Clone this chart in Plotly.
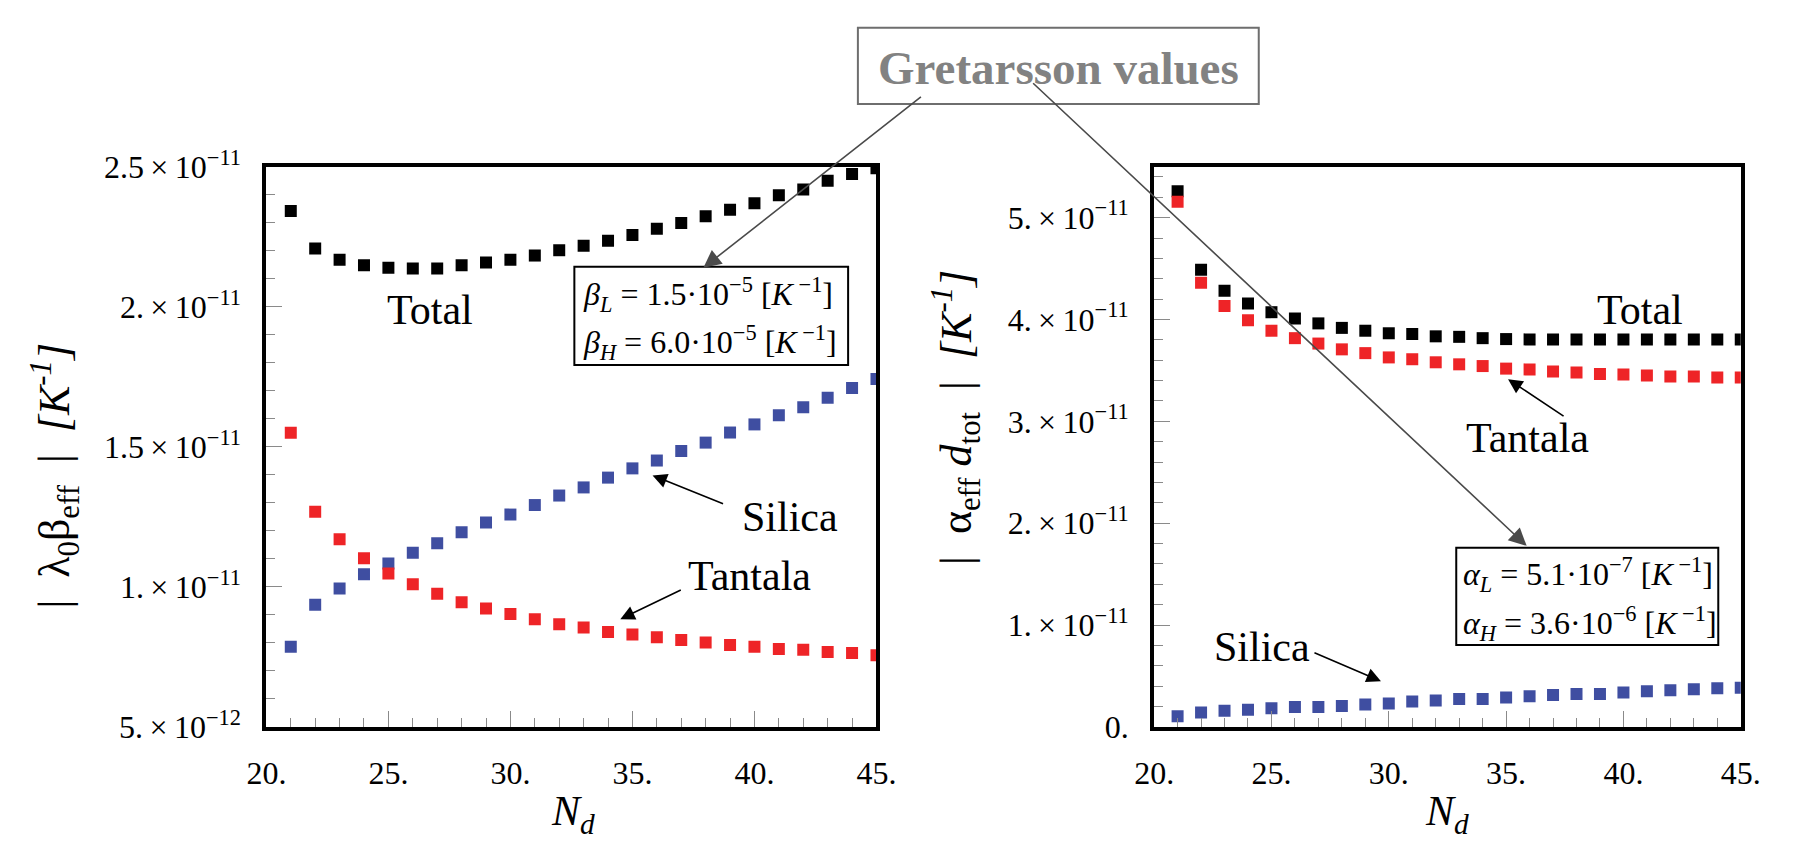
import plotly.graph_objects as go

W, H = 1794, 842

# ---------------- data ----------------
N_layers = list(range(21, 46))

# left panel: |lambda0 beta_eff|  (values in units of 1e-11 K^-1)
left_total = [2.342, 2.208, 2.168, 2.148, 2.139, 2.137, 2.137, 2.148, 2.158, 2.168,
              2.183, 2.202, 2.218, 2.236, 2.256, 2.279, 2.299, 2.323, 2.347, 2.370,
              2.398, 2.419, 2.450, 2.474, 2.495]
left_silica = [0.786, 0.936, 0.994, 1.045, 1.083, 1.122, 1.156, 1.195, 1.230, 1.258,
               1.292, 1.326, 1.355, 1.390, 1.423, 1.451, 1.485, 1.515, 1.551, 1.580,
               1.613, 1.641, 1.675, 1.710, 1.742]
left_tantala = [1.550, 1.268, 1.170, 1.102, 1.048, 1.009, 0.975, 0.945, 0.923, 0.903,
                0.884, 0.866, 0.855, 0.839, 0.830, 0.820, 0.810, 0.801, 0.792, 0.786,
                0.778, 0.775, 0.767, 0.764, 0.756]

# right panel: |alpha_eff d_tot|  (values in units of 1e-11 K^-1)
right_total = [5.26, 4.488, 4.283, 4.157, 4.072, 4.010, 3.962, 3.918, 3.890, 3.865,
               3.858, 3.835, 3.830, 3.817, 3.808, 3.805, 3.805, 3.805, 3.805, 3.805,
               3.805, 3.805, 3.805, 3.805, 3.805]
right_tantala = [5.156, 4.362, 4.132, 3.994, 3.890, 3.817, 3.764, 3.707, 3.670, 3.628,
                 3.610, 3.580, 3.560, 3.543, 3.518, 3.510, 3.490, 3.480, 3.465, 3.460,
                 3.450, 3.440, 3.440, 3.430, 3.430]
right_silica = [0.104, 0.142, 0.158, 0.167, 0.183, 0.196, 0.196, 0.205, 0.220, 0.230,
                0.249, 0.259, 0.274, 0.274, 0.287, 0.300, 0.312, 0.322, 0.322, 0.338,
                0.350, 0.360, 0.369, 0.379, 0.385]
UNIT = 1e-11

x_tickvals = [20, 25, 30, 35, 40, 45]
x_ticktext = ["20.", "25.", "30.", "35.", "40.", "45."]
left_tickvals = [5e-12, 1e-11, 1.5e-11, 2e-11, 2.5e-11]
left_ticktext = ["5.\u2009×\u200910<sup>−12</sup>", "1.\u2009×\u200910<sup>−11</sup>",
                 "1.5\u2009×\u200910<sup>−11</sup>", "2.\u2009×\u200910<sup>−11</sup>",
                 "2.5\u2009×\u200910<sup>−11</sup>"]
right_tickvals = [0, 1e-11, 2e-11, 3e-11, 4e-11, 5e-11]
right_ticktext = ["0.", "1.\u2009×\u200910<sup>−11</sup>", "2.\u2009×\u200910<sup>−11</sup>",
                  "3.\u2009×\u200910<sup>−11</sup>", "4.\u2009×\u200910<sup>−11</sup>",
                  "5.\u2009×\u200910<sup>−11</sup>"]

BLACK = "#000000"
RED = "#EE2427"
BLUE = "#3F4EA1"
SERIF = "Liberation Serif"

fig = go.Figure()


def add(xs, vals, color, xa, ya):
    fig.add_trace(go.Scatter(
        x=xs, y=[v * UNIT for v in vals], mode="markers",
        marker=dict(symbol="square", size=12, color=color, line=dict(width=0)),
        xaxis=xa, yaxis=ya, showlegend=False, hoverinfo="skip"))


add(N_layers, left_total, BLACK, "x", "y")
add(N_layers, left_silica, BLUE, "x", "y")
add(N_layers, left_tantala, RED, "x", "y")
add(N_layers, right_total, BLACK, "x2", "y2")
add(N_layers, right_tantala, RED, "x2", "y2")
add(N_layers, right_silica, BLUE, "x2", "y2")


def px(X):
    return X / W


def py(Y):
    return 1 - Y / H


tickfont = dict(family=SERIF, size=32, color="black")
common_axis = dict(showline=True, linecolor="black", linewidth=4, mirror=True,
                   showgrid=False, zeroline=False, ticks="inside", tickcolor="#8a8a8a",
                   tickwidth=1.2, ticklen=16, tickfont=tickfont)

xaxis_common = dict(common_axis, range=[20, 45], tickmode="array", tickvals=x_tickvals,
                    ticktext=x_ticktext, ticklabelstandoff=15,
                    minor=dict(tick0=20, dtick=1, ticks="inside", ticklen=9,
                               tickcolor="#8a8a8a", tickwidth=1))

fig.update_layout(
    width=W, height=H, autosize=False,
    margin=dict(l=0, r=0, t=0, b=0),
    paper_bgcolor="white", plot_bgcolor="white",
    xaxis=dict(xaxis_common, domain=[px(252), px(876)], anchor="y"),
    yaxis=dict(common_axis, domain=[py(740), py(152)], anchor="x",
               range=[5e-12, 2.5e-11], tickmode="array", tickvals=left_tickvals,
               ticktext=left_ticktext, ticklabelstandoff=15,
               minor=dict(dtick=1e-12, tick0=0, ticks="inside", ticklen=9,
                          tickcolor="#8a8a8a", tickwidth=1)),
    xaxis2=dict(xaxis_common, domain=[px(1160), px(1760)], anchor="y2"),
    yaxis2=dict(common_axis, domain=[py(740), py(152)], anchor="x2",
                range=[0, 5.5e-11], tickmode="array", tickvals=right_tickvals,
                ticktext=right_ticktext, ticklabelstandoff=15,
                minor=dict(dtick=2e-12, tick0=0, ticks="inside", ticklen=9,
                           tickcolor="#8a8a8a", tickwidth=1)),
)

ann = []
shapes = []


def text(X, Y, s, size=42, color="black", xanchor="center", angle=0, bold=False):
    ann.append(dict(x=px(X), y=py(Y), xref="paper", yref="paper", text=s,
                    showarrow=False, xanchor=xanchor, yanchor="middle",
                    textangle=angle,
                    font=dict(family=SERIF, size=size, color=color,
                              weight="bold" if bold else "normal")))


def arrow(tail, tip, color="black", width=1.6, size=1.8):
    ann.append(dict(x=px(tip[0]), y=py(tip[1]), xref="paper", yref="paper",
                    ax=tail[0] - tip[0], ay=tail[1] - tip[1], text="",
                    showarrow=True, arrowhead=2, arrowsize=size, arrowwidth=width,
                    arrowcolor=color, standoff=0, startstandoff=0))


def box(x0, y0, x1, y1, color="black", width=2):
    shapes.append(dict(type="rect", xref="paper", yref="paper",
                       x0=px(x0), x1=px(x1), y0=py(y1), y1=py(y0),
                       line=dict(color=color, width=width), fillcolor="white",
                       layer="above"))


SP = "\u2002"
# axis titles
text(36, 476, "|" + SP + "λ<sub>0</sub>β<sub>eff</sub>" + SP + "|" + SP + "<i>[K<sup>-1</sup>]</i>",
     size=44, angle=-90)
text(958, 415, "|" + SP + "α<sub>eff</sub> <i>d</i><sub>tot</sub>" + SP + "|" + SP
     + "<i>[K<sup>-1</sup>]</i>", size=44, angle=-90)
text(566, 831, "<i>N<sub>d</sub></i>", size=42)
text(1460, 831, "<i>N<sub>d</sub></i>", size=42)

# series labels
text(419, 302, "Total")
text(788, 520, "Silica")
text(746, 582, "Tantala")
text(1657, 302, "Total")
text(1542, 437, "Tantala")
text(1270, 656, "Silica")

arrow((719, 505), (647, 476))
arrow((676, 597), (614, 627))
arrow((1579, 413), (1522, 375))
arrow((1324, 663), (1392, 692))

# parameter boxes
box(567, 257, 847, 360)
text(574, 286, "<i>β<sub>L</sub></i> = 1.5·10<sup>−5</sup> [<i>K</i><sup> −1</sup>]", size=32, xanchor="left")
text(574, 336, "<i>β<sub>H</sub></i> = 6.0·10<sup>−5</sup> [<i>K</i><sup> −1</sup>]", size=32, xanchor="left")
box(1469, 552, 1737, 654)
text(1474, 580, "<i>α<sub>L</sub></i> = 5.1·10<sup>−7</sup> [<i>K</i><sup> −1</sup>]", size=32, xanchor="left")
text(1474, 631, "<i>α<sub>H</sub></i> = 3.6·10<sup>−6</sup> [<i>K</i><sup> −1</sup>]", size=32, xanchor="left")

# Gretarsson box and leader arrows
box(857, 6, 1267, 86, color="#6e6e6e", width=2)
text(1062, 48, "Gretarsson values", size=47, color="#828282", bold=True)
arrow((918, 86), (699, 258), color="#4a4a4a", width=1.6, size=2.2)
arrow((1046, 86), (1541, 550), color="#4a4a4a", width=1.6, size=2.2)

fig.update_layout(annotations=ann, shapes=shapes)

fig.write_html("out.html")
